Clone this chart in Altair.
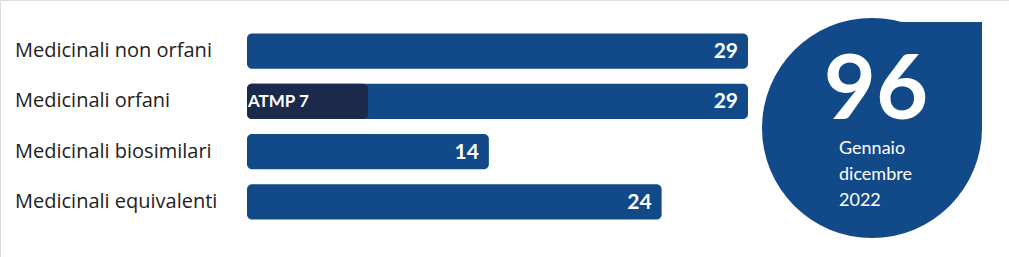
import altair as alt
import pandas as pd

categories = ["Medicinali non orfani", "Medicinali orfani", "Medicinali biosimilari", "Medicinali equivalenti"]
values = [29, 29, 14, 24]
atmp_category = "Medicinali orfani"
atmp_label = "ATMP 7"
atmp_value = [7]
total = ["96"]
period_lines = ["Gennaio", "dicembre", "2022"]

BLUE = "#124A89"
DARK = "#1B2A4B"
FONT = "Lato"
LABEL_FONT = "Open Sans"

df = pd.DataFrame({"cat": categories, "val": values, "label": [str(v) for v in values]})
atmp = pd.DataFrame({"cat": [atmp_category], "val": atmp_value, "label": [atmp_label]})

xs = alt.Scale(domain=[0, 29], range=[247, 748], nice=False, zero=True)
ys = alt.Scale(domain=categories, range=[26, 227], paddingInner=0.3, paddingOuter=0.15)
X = alt.X("val:Q", scale=xs, axis=None)
Y = alt.Y("cat:N", scale=ys, axis=None, sort=categories)

bars = alt.Chart(df).mark_bar(color=BLUE, cornerRadius=5).transform_calculate(zero="0").encode(
    x=alt.X("zero:Q", scale=xs, axis=None), x2="val:Q", y=Y)

vals = alt.Chart(df).mark_text(align="right", baseline="middle", dx=-10, dy=1, color="white",
                                font=FONT, fontWeight="bold", fontSize=21).encode(x=X, y=Y, text="label:N")

cats = alt.Chart(df).mark_text(align="left", baseline="middle", color="#222222",
                                font=LABEL_FONT, fontSize=20).encode(x=alt.value(15), y=Y, text="cat:N")

atmp_bar = alt.Chart(atmp).mark_bar(color=DARK, cornerRadius=5).transform_calculate(zero="0").encode(
    x=alt.X("zero:Q", scale=xs, axis=None), x2="val:Q", y=Y)
atmp_text = alt.Chart(atmp).mark_text(align="left", baseline="middle", dy=1, color="white",
                                       font=FONT, fontWeight="bold", fontSize=17).encode(
    x=alt.value(248), y=Y, text="label:N")

one = pd.DataFrame({"k": [0]})
drop_circle = alt.Chart(one).mark_arc(color=BLUE, theta=0, theta2=6.2832, outerRadius=110).encode(
    x=alt.value(872), y=alt.value(128))
drop_corner = alt.Chart(one).mark_rect(color=BLUE).encode(
    x=alt.value(872), x2=alt.value(982), y=alt.value(22), y2=alt.value(128))

big = alt.Chart(pd.DataFrame({"t": total})).mark_text(align="center", baseline="alphabetic", color="white",
                                                      font=FONT, fontWeight="bold", fontSize=90).encode(
    x=alt.value(876), y=alt.value(119), text="t:N")

per = alt.Chart(one).mark_text(align="left", baseline="middle", color="white", font=FONT, fontSize=18,
                               lineHeight=26, lineBreak="\n").encode(
    x=alt.value(839), y=alt.value(149), text=alt.value("\n".join(period_lines)))

chart = alt.layer(bars, atmp_bar, vals, atmp_text, cats, drop_circle, drop_corner, big, per).properties(
    width=1009, height=257, autosize=alt.AutoSizeParams(type="none"), padding=0
).configure_view(stroke=None).configure(background="white")

chart.save("out.html", embed_options={"renderer": "svg", "actions": False})
